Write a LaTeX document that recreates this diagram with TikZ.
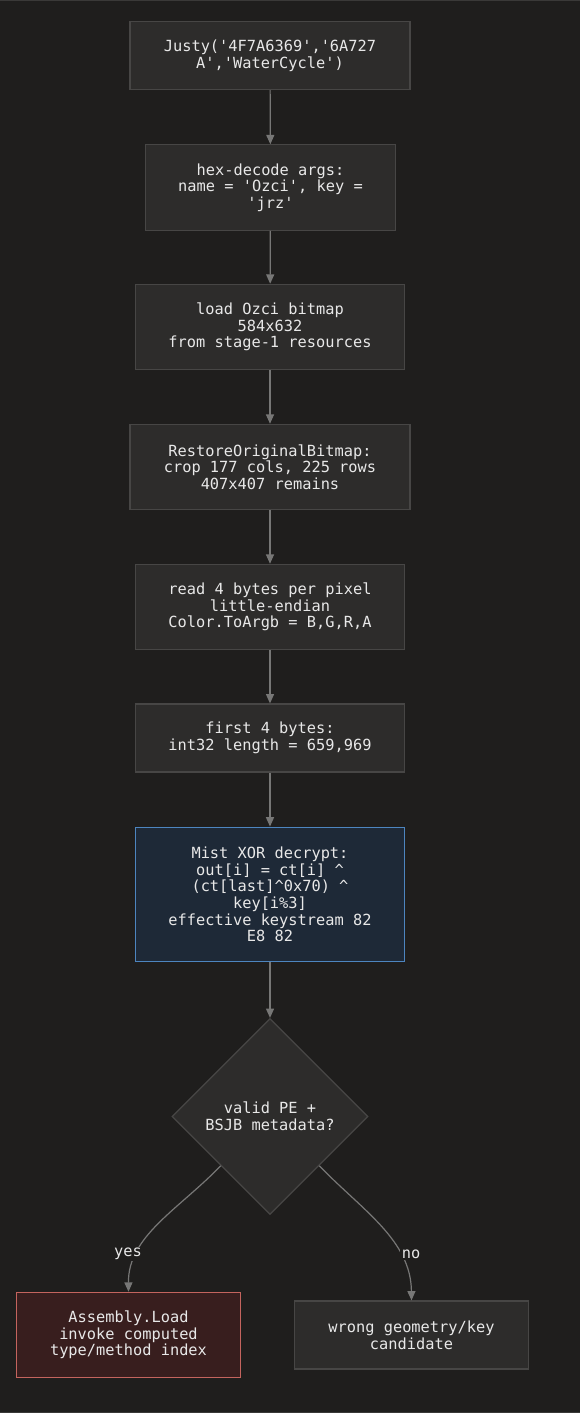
\documentclass[tikz,border=0pt]{standalone}
\usepackage{fontspec}
\setmonofont{DejaVu Sans Mono}
\usetikzlibrary{arrows.meta,shapes.geometric}
\definecolor{bg}{HTML}{1F1E1D}
\definecolor{nodefill}{HTML}{2D2C2B}
\definecolor{nodeborder}{HTML}{474645}
\definecolor{txt}{HTML}{E8E8E8}
\definecolor{edge}{HTML}{777776}
\definecolor{bluefill}{HTML}{1E2937}
\definecolor{blueborder}{HTML}{4D85BF}
\definecolor{redfill}{HTML}{381E1E}
\definecolor{redborder}{HTML}{C4645E}
\definecolor{frameline}{HTML}{3A3938}
\tikzset{
  box/.style={draw=nodeborder, fill=nodefill, line width=0.9pt, text=txt, align=center,
    font=\ttfamily\fontsize{11.5}{12.5}\selectfont, inner sep=0pt, anchor=center},
  bluebox/.style={box, draw=blueborder, fill=bluefill},
  redbox/.style={box, draw=redborder, fill=redfill},
  decision/.style={diamond, draw=nodeborder, fill=nodefill, line width=0.9pt, text=txt, align=center,
    font=\ttfamily\fontsize{11.5}{12.5}\selectfont, inner sep=0pt, minimum width=147pt, minimum height=147pt, aspect=1},
  flow/.style={draw=edge, line width=0.9pt, -{Triangle[length=7pt,width=6pt]}},
  lbl/.style={fill=bg, text=txt, font=\ttfamily\fontsize{11.5}{12.5}\selectfont, inner sep=1pt}
}
\begin{document}
\begin{tikzpicture}[x=0.75pt,y=-0.75pt]
\fill[bg] (0,0) rectangle (580,1413);
\useasboundingbox (0,0) rectangle (580,1413);
\draw[frameline, line width=1pt] (0,0.5) -- (580,0.5);
\draw[frameline, line width=1pt] (0,1412.5) -- (580,1412.5);

\node[box, minimum width=210pt, minimum height=51pt] (n1) at (270,55.5) {Justy('4F7A6369','6A727\\A','WaterCycle')};
\node[box, minimum width=188pt, minimum height=64pt] (n2) at (270.5,187.5) {hex-decode args:\\name = 'Ozci', key =\\'jrz'};
\node[box, minimum width=202pt, minimum height=64pt] (n3) at (270,327) {load Ozci bitmap\\584x632\\from stage-1 resources};
\node[box, minimum width=210pt, minimum height=64pt] (n4) at (270,467) {RestoreOriginalBitmap:\\crop 177 cols, 225 rows\\407x407 remains};
\node[box, minimum width=202pt, minimum height=64pt] (n5) at (270,607) {read 4 bytes per pixel\\little-endian\\Color.ToArgb = B,G,R,A};
\node[box, minimum width=202pt, minimum height=51pt] (n6) at (270,738) {first 4 bytes:\\int32 length = 659,969};
\node[bluebox, minimum width=202pt, minimum height=101pt] (n7) at (270,894.5) {Mist XOR decrypt:\\out[i] = ct[i] \textasciicircum\\(ct[last]\textasciicircum 0x70) \textasciicircum\\key[i\%3]\\effective keystream 82\\E8 82};
\node[decision] (n8) at (270,1116.5) {valid PE +\\BSJB metadata?};
\node[redbox, minimum width=168pt, minimum height=64pt] (n9) at (128.5,1335) {Assembly.Load\\invoke computed\\type/method index};
\node[box, minimum width=175pt, minimum height=51pt] (n10) at (411.5,1335) {wrong geometry/key\\candidate};

\draw[flow] (n1) -- (n2);
\draw[flow] (n2) -- (n3);
\draw[flow] (n3) -- (n4);
\draw[flow] (n4) -- (n5);
\draw[flow] (n5) -- (n6);
\draw[flow] (n6) -- (n7);
\draw[flow] (n7) -- (n8);
\draw[flow] (n8.-135) .. controls (178,1210) and (128,1236) .. (n9.north);
\draw[flow] (n8.-45) .. controls (362,1210) and (411,1240) .. (n10.north);
\node[lbl] (ly) at (128,1254) {yes};
\node[lbl] (ln) at (411,1254) {no};
\end{tikzpicture}
\end{document}
